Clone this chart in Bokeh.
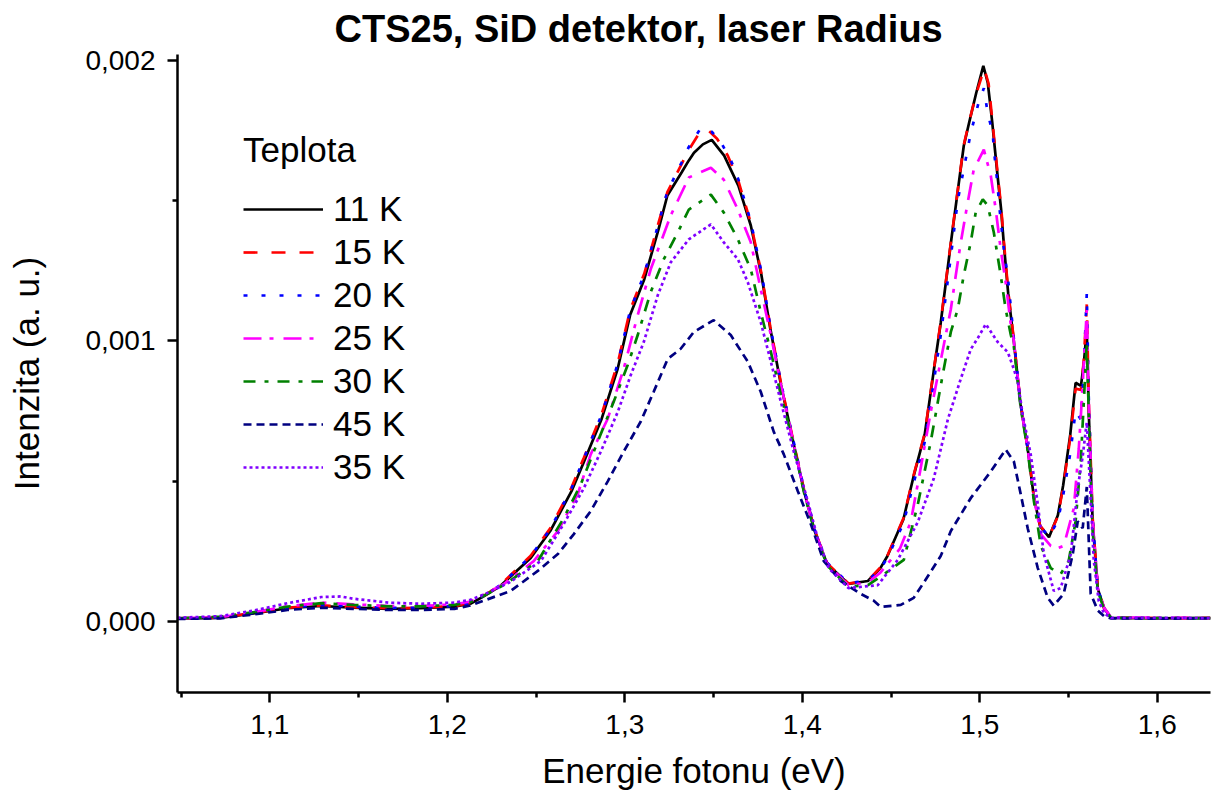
from bokeh.plotting import figure
from bokeh.models import Range1d, FixedTicker, CustomJSTickFormatter, Legend, LegendItem
from bokeh.embed import file_html
from bokeh.resources import INLINE

TITLE = "CTS25, SiD detektor, laser Radius"
X_LABEL = "Energie fotonu (eV)"
Y_LABEL = "Intenzita (a. u.)"
LEGEND_TITLE = "Teplota"

x_major = [1.1, 1.2, 1.3, 1.4, 1.5, 1.6]
x_minor = [1.05, 1.15, 1.25, 1.35, 1.45, 1.55]
y_major = [0.0, 0.001, 0.002]
y_minor = [0.0005, 0.0015]

# (energy eV, intensity a.u.)
s11 = [(1.048, 0.000011), (1.072, 0.000014), (1.091, 0.000030), (1.110, 0.000048), (1.129, 0.000056),
       (1.147, 0.000050), (1.167, 0.000046), (1.185, 0.000048), (1.204, 0.000054), (1.213, 0.000064),
       (1.221, 0.000092), (1.230, 0.000128), (1.247, 0.000227), (1.258, 0.000323), (1.270, 0.000465),
       (1.277, 0.000570), (1.287, 0.000723), (1.296, 0.000901), (1.303, 0.001092), (1.311, 0.001220),
       (1.319, 0.001397), (1.324, 0.001518), (1.332, 0.001600), (1.336, 0.001642), (1.339, 0.001670),
       (1.344, 0.001700), (1.349, 0.001716), (1.356, 0.001660), (1.364, 0.001553), (1.371, 0.001411),
       (1.377, 0.001234), (1.382, 0.001043), (1.388, 0.000844), (1.394, 0.000667), (1.401, 0.000465),
       (1.407, 0.000323), (1.414, 0.000206), (1.426, 0.000135), (1.437, 0.000145), (1.444, 0.000191),
       (1.448, 0.000234), (1.457, 0.000365), (1.463, 0.000525), (1.469, 0.000667), (1.474, 0.000890),
       (1.478, 0.001064), (1.484, 0.001362), (1.488, 0.001553), (1.491, 0.001695), (1.494, 0.001777),
       (1.498, 0.001883), (1.502, 0.001980), (1.5045, 0.001920), (1.507, 0.001780), (1.510, 0.001590),
       (1.512, 0.001470), (1.5135, 0.001350), (1.516, 0.001170), (1.519, 0.001010), (1.523, 0.000773),
       (1.527, 0.000617), (1.5305, 0.000443), (1.534, 0.000340), (1.539, 0.000301), (1.544, 0.000379),
       (1.547, 0.000486), (1.551, 0.000667), (1.554, 0.000851), (1.557, 0.000840), (1.5586, 0.000918),
       (1.5603, 0.001040), (1.5614, 0.000748), (1.5636, 0.000355), (1.5665, 0.000117), (1.570, 0.000050),
       (1.574, 0.000014), (1.600, 0.000012), (1.630, 0.000014)]

s15 = [(1.048, 0.000012), (1.072, 0.000015), (1.091, 0.000031), (1.110, 0.000050), (1.129, 0.000058),
       (1.147, 0.000052), (1.167, 0.000048), (1.185, 0.000050), (1.204, 0.000056), (1.213, 0.000066),
       (1.221, 0.000094), (1.230, 0.000132), (1.247, 0.000235), (1.258, 0.000333), (1.270, 0.000478),
       (1.277, 0.000585), (1.287, 0.000740), (1.296, 0.000920), (1.303, 0.001110), (1.311, 0.001240),
       (1.319, 0.001420), (1.324, 0.001530), (1.332, 0.001630), (1.336, 0.001680), (1.342, 0.001740),
       (1.347, 0.001750), (1.352, 0.001720), (1.358, 0.001660), (1.364, 0.001570), (1.371, 0.001420),
       (1.377, 0.001240), (1.382, 0.001050), (1.388, 0.000850), (1.394, 0.000672), (1.401, 0.000470),
       (1.407, 0.000326), (1.414, 0.000208), (1.426, 0.000136), (1.437, 0.000147), (1.444, 0.000193),
       (1.448, 0.000236), (1.457, 0.000368), (1.463, 0.000528), (1.469, 0.000670), (1.474, 0.000893),
       (1.478, 0.001068), (1.484, 0.001365), (1.488, 0.001556), (1.491, 0.001698), (1.494, 0.001780),
       (1.498, 0.001880), (1.5025, 0.001970), (1.505, 0.001915), (1.507, 0.001790), (1.510, 0.001600),
       (1.512, 0.001480), (1.5135, 0.001360), (1.516, 0.001180), (1.519, 0.001015), (1.523, 0.000778),
       (1.527, 0.000620), (1.5305, 0.000446), (1.534, 0.000342), (1.539, 0.000303), (1.544, 0.000375),
       (1.547, 0.000480), (1.551, 0.000655), (1.554, 0.000830), (1.557, 0.000825), (1.5586, 0.000930),
       (1.5603, 0.001130), (1.5614, 0.000790), (1.5636, 0.000370), (1.5665, 0.000120), (1.570, 0.000048),
       (1.574, 0.000015), (1.600, 0.000013), (1.630, 0.000013)]

s20 = [(1.048, 0.000011), (1.072, 0.000015), (1.091, 0.000032), (1.110, 0.000050), (1.129, 0.000060),
       (1.147, 0.000054), (1.167, 0.000049), (1.185, 0.000050), (1.204, 0.000056), (1.213, 0.000066),
       (1.221, 0.000094), (1.230, 0.000131), (1.247, 0.000233), (1.258, 0.000330), (1.270, 0.000475),
       (1.277, 0.000582), (1.287, 0.000738), (1.296, 0.000918), (1.303, 0.001108), (1.311, 0.001238),
       (1.319, 0.001418), (1.324, 0.001532), (1.332, 0.001635), (1.336, 0.001690), (1.343, 0.001760),
       (1.349, 0.001745), (1.354, 0.001710), (1.360, 0.001640), (1.364, 0.001575), (1.371, 0.001425),
       (1.377, 0.001245), (1.382, 0.001052), (1.388, 0.000852), (1.394, 0.000674), (1.401, 0.000472),
       (1.407, 0.000328), (1.414, 0.000210), (1.426, 0.000137), (1.437, 0.000146), (1.444, 0.000188),
       (1.448, 0.000228), (1.457, 0.000350), (1.463, 0.000500), (1.469, 0.000640), (1.474, 0.000850),
       (1.478, 0.001020), (1.4837, 0.001300), (1.4876, 0.001500), (1.4949, 0.001740), (1.4994, 0.001850),
       (1.5023, 0.001900), (1.5045, 0.001810), (1.5073, 0.001740), (1.508, 0.001680), (1.5101, 0.001550),
       (1.511, 0.001480), (1.5135, 0.001330), (1.5158, 0.001230), (1.519, 0.001020), (1.523, 0.000776),
       (1.527, 0.000618), (1.5305, 0.000444), (1.534, 0.000341), (1.539, 0.000302), (1.544, 0.000360),
       (1.547, 0.000450), (1.551, 0.000600), (1.554, 0.000750), (1.557, 0.000720), (1.5586, 0.000900),
       (1.5603, 0.001170), (1.5614, 0.000800), (1.5636, 0.000370), (1.5665, 0.000118), (1.570, 0.000049),
       (1.574, 0.000014), (1.600, 0.000013), (1.630, 0.000012)]

s25 = [(1.048, 0.000012), (1.072, 0.000016), (1.091, 0.000034), (1.110, 0.000055), (1.129, 0.000068),
       (1.147, 0.000062), (1.167, 0.000056), (1.185, 0.000056), (1.204, 0.000062), (1.213, 0.000072),
       (1.221, 0.000098), (1.232, 0.000135), (1.2487, 0.000216), (1.2623, 0.000323), (1.2735, 0.000454),
       (1.2808, 0.000596), (1.2904, 0.000723), (1.2994, 0.000901), (1.3073, 0.001092), (1.3146, 0.001255),
       (1.3259, 0.001447), (1.3361, 0.001582), (1.3485, 0.001617), (1.3558, 0.001574), (1.3637, 0.001468),
       (1.371, 0.001351), (1.3766, 0.001184), (1.3823, 0.001021), (1.388, 0.000844), (1.394, 0.000667),
       (1.401, 0.000465), (1.407, 0.000323), (1.414, 0.000206), (1.426, 0.000130), (1.437, 0.000140),
       (1.444, 0.000175), (1.455, 0.000260), (1.4611, 0.000355), (1.4668, 0.000550), (1.4724, 0.000748),
       (1.478, 0.000930), (1.4837, 0.001113), (1.4865, 0.001234), (1.4893, 0.001351), (1.4932, 0.001493),
       (1.4966, 0.001610), (1.5023, 0.001681), (1.5062, 0.001589), (1.509, 0.001468), (1.5118, 0.001326),
       (1.5146, 0.001209), (1.5175, 0.001057), (1.5192, 0.001000), (1.523, 0.000773), (1.527, 0.000617),
       (1.5305, 0.000443), (1.5344, 0.000312), (1.540, 0.000270), (1.5439, 0.000262), (1.5473, 0.000270),
       (1.553, 0.000404), (1.5558, 0.000617), (1.5574, 0.000780), (1.5603, 0.001110), (1.5614, 0.000780),
       (1.5636, 0.000360), (1.5665, 0.000120), (1.570, 0.000050), (1.574, 0.000016), (1.600, 0.000014),
       (1.630, 0.000013)]

s30 = [(1.048, 0.000012), (1.072, 0.000018), (1.091, 0.000034), (1.110, 0.000054), (1.129, 0.000066),
       (1.147, 0.000060), (1.167, 0.000055), (1.185, 0.000055), (1.204, 0.000060), (1.213, 0.000070),
       (1.221, 0.000094), (1.233, 0.000135), (1.251, 0.000216), (1.2656, 0.000369), (1.2752, 0.000489),
       (1.2848, 0.000642), (1.2938, 0.000784), (1.3017, 0.000915), (1.3073, 0.001021), (1.3146, 0.001174),
       (1.322, 0.001291), (1.3299, 0.001387), (1.3361, 0.001468), (1.3485, 0.001521), (1.3558, 0.001457),
       (1.3637, 0.001362), (1.371, 0.001255), (1.3766, 0.001103), (1.3823, 0.000961), (1.3879, 0.000809),
       (1.394, 0.000660), (1.401, 0.000460), (1.407, 0.000320), (1.414, 0.000200), (1.426, 0.000125),
       (1.437, 0.000130), (1.444, 0.000160), (1.4572, 0.000220), (1.4651, 0.000418), (1.4724, 0.000642),
       (1.4791, 0.000879), (1.4837, 0.001032), (1.4876, 0.001113), (1.491, 0.001234), (1.4949, 0.001351),
       (1.4977, 0.001457), (1.5017, 0.001504), (1.5045, 0.001482), (1.5079, 0.001387), (1.5118, 0.001234),
       (1.5146, 0.001113), (1.5175, 0.001021), (1.5192, 0.000980), (1.523, 0.000765), (1.527, 0.000610),
       (1.5305, 0.000430), (1.5344, 0.000270), (1.540, 0.000191), (1.5456, 0.000170), (1.5501, 0.000216),
       (1.554, 0.000358), (1.5569, 0.000571), (1.5586, 0.000780), (1.5603, 0.000996), (1.562, 0.000606),
       (1.5636, 0.000323), (1.5665, 0.000110), (1.570, 0.000045), (1.574, 0.000014), (1.600, 0.000013),
       (1.630, 0.000012)]

s45 = [(1.048, 0.000010), (1.072, 0.000012), (1.091, 0.000026), (1.110, 0.000042), (1.129, 0.000050),
       (1.147, 0.000046), (1.167, 0.000042), (1.185, 0.000042), (1.204, 0.000046), (1.213, 0.000058),
       (1.2206, 0.000075), (1.2358, 0.000110), (1.251, 0.000181), (1.2623, 0.000241), (1.2713, 0.000312),
       (1.2808, 0.000394), (1.2904, 0.000500), (1.2994, 0.000606), (1.309, 0.000713), (1.3163, 0.000819),
       (1.3242, 0.000936), (1.3315, 0.000972), (1.3389, 0.001032), (1.3501, 0.001074), (1.3597, 0.001021),
       (1.3693, 0.000926), (1.3766, 0.000819), (1.3839, 0.000677), (1.3896, 0.000596), (1.3975, 0.000465),
       (1.4048, 0.000348), (1.4121, 0.000216), (1.4217, 0.000145), (1.433, 0.000099), (1.4403, 0.000075),
       (1.4442, 0.000053), (1.4555, 0.000060), (1.4628, 0.000085), (1.4685, 0.000140), (1.478, 0.000234),
       (1.4837, 0.000323), (1.4949, 0.000440), (1.5062, 0.000535), (1.5146, 0.000613), (1.5192, 0.000571),
       (1.5231, 0.000454), (1.527, 0.000333), (1.5327, 0.000191), (1.5383, 0.000085), (1.5417, 0.000057),
       (1.5473, 0.000100), (1.5524, 0.000241), (1.5552, 0.000358), (1.558, 0.000333), (1.5603, 0.000480),
       (1.5625, 0.000100), (1.5665, 0.000040), (1.570, 0.000020), (1.574, 0.000012), (1.600, 0.000011),
       (1.630, 0.000012)]

s35 = [(1.048, 0.000014), (1.072, 0.000020), (1.091, 0.000040), (1.110, 0.000066), (1.129, 0.000088),
       (1.140, 0.000090), (1.147, 0.000082), (1.167, 0.000068), (1.185, 0.000064), (1.204, 0.000068),
       (1.213, 0.000078), (1.221, 0.000098), (1.235, 0.000140), (1.2527, 0.000216), (1.2656, 0.000348),
       (1.2769, 0.000475), (1.2865, 0.000606), (1.2961, 0.000748), (1.3034, 0.000879), (1.3107, 0.000996),
       (1.3186, 0.001163), (1.3259, 0.001280), (1.3361, 0.001362), (1.3485, 0.001415), (1.3558, 0.001351),
       (1.3637, 0.001291), (1.3693, 0.001209), (1.3766, 0.001067), (1.3823, 0.000926), (1.3879, 0.000784),
       (1.3952, 0.000606), (1.4031, 0.000429), (1.409, 0.000290), (1.415, 0.000190), (1.426, 0.000120),
       (1.4425, 0.000130), (1.4538, 0.000220), (1.4651, 0.000355), (1.4741, 0.000510), (1.482, 0.000720),
       (1.4893, 0.000865), (1.4949, 0.000970), (1.4989, 0.001010), (1.5034, 0.001060), (1.5101, 0.000996),
       (1.5158, 0.000960), (1.5192, 0.000900), (1.5214, 0.000855), (1.5242, 0.000738), (1.5287, 0.000596),
       (1.5327, 0.000418), (1.5361, 0.000241), (1.5417, 0.000110), (1.5456, 0.000120), (1.5513, 0.000241),
       (1.5552, 0.000475), (1.558, 0.000590), (1.5603, 0.000710), (1.562, 0.000500), (1.5642, 0.000220),
       (1.567, 0.000075), (1.570, 0.000030), (1.574, 0.000014), (1.600, 0.000014), (1.630, 0.000013)]

series_labels = ["11 K", "15 K", "20 K", "25 K", "30 K", "45 K", "35 K"]
series_data = [s11, s15, s20, s25, s30, s45, s35]
series_colors = ["#000000", "#FF0000", "#0000FF", "#FF00FF", "#008000", "#000080", "#8000FF"]
series_dash = ["solid", "14 14", "4 14", "18 8 4 10", "12 9 4 9", "8 5", "3 3"]

FONT = "Liberation Sans"
BLACK = "#000000"

p = figure(width=1211, height=798, output_backend="svg", toolbar_location=None,
           x_range=Range1d(1.048, 1.630), y_range=Range1d(-0.000252, 0.00202),
           min_border_left=177, min_border_right=1, min_border_top=53, min_border_bottom=106,
           background_fill_color="white", border_fill_color="white")
p.outline_line_color = None
p.grid.visible = False

p.title.text = TITLE
p.title.text_font = FONT
p.title.text_font_style = "bold"
p.title.text_font_size = "38px"
p.title.text_color = BLACK
p.title.align = "left"
p.title.offset = 157

renderers = []
for lab, data, col, dash in zip(series_labels, series_data, series_colors, series_dash):
    xs = [d[0] for d in data]
    ys = [d[1] for d in data]
    r = p.line(xs, ys, line_color=col, line_width=2.7, line_dash=dash)
    renderers.append(r)

for ax in (p.xaxis[0], p.yaxis[0]):
    ax.axis_line_width = 2.5
    ax.axis_line_color = BLACK
    ax.major_tick_line_width = 2.5
    ax.minor_tick_line_width = 2.5
    ax.major_tick_line_color = BLACK
    ax.minor_tick_line_color = BLACK
    ax.major_tick_out = 10
    ax.major_tick_in = 0
    ax.minor_tick_out = 5
    ax.minor_tick_in = 0
    ax.major_label_text_font = FONT
    ax.major_label_text_font_size = "28px"
    ax.major_label_text_color = BLACK
    ax.axis_label_text_font = FONT
    ax.axis_label_text_font_size = "35px"
    ax.axis_label_text_font_style = "normal"
    ax.axis_label_text_color = BLACK

p.xaxis[0].ticker = FixedTicker(ticks=x_major, minor_ticks=x_minor)
p.yaxis[0].ticker = FixedTicker(ticks=y_major, minor_ticks=y_minor)
p.xaxis[0].formatter = CustomJSTickFormatter(code="return tick.toFixed(1).replace('.', ',');")
p.yaxis[0].formatter = CustomJSTickFormatter(code="return tick.toFixed(3).replace('.', ',');")
p.xaxis[0].axis_label = X_LABEL
p.yaxis[0].axis_label = Y_LABEL
p.xaxis[0].major_label_standoff = 12
p.yaxis[0].major_label_standoff = 12
p.xaxis[0].axis_label_standoff = 14
p.yaxis[0].axis_label_standoff = 36

legend = Legend(items=[LegendItem(label=l, renderers=[r]) for l, r in zip(series_labels, renderers)],
                location=(66, 205), title=LEGEND_TITLE,
                title_text_font=FONT, title_text_font_size="35px", title_text_font_style="normal",
                title_text_color=BLACK, title_standoff=19, label_text_font=FONT,
                label_text_font_size="35px", label_text_color=BLACK,
                glyph_width=80, glyph_height=40, label_height=40, label_standoff=10, spacing=3,
                padding=0, margin=0, border_line_color=None, background_fill_alpha=0)
p.add_layout(legend)

open("out.html", "w").write(file_html(p, INLINE))
